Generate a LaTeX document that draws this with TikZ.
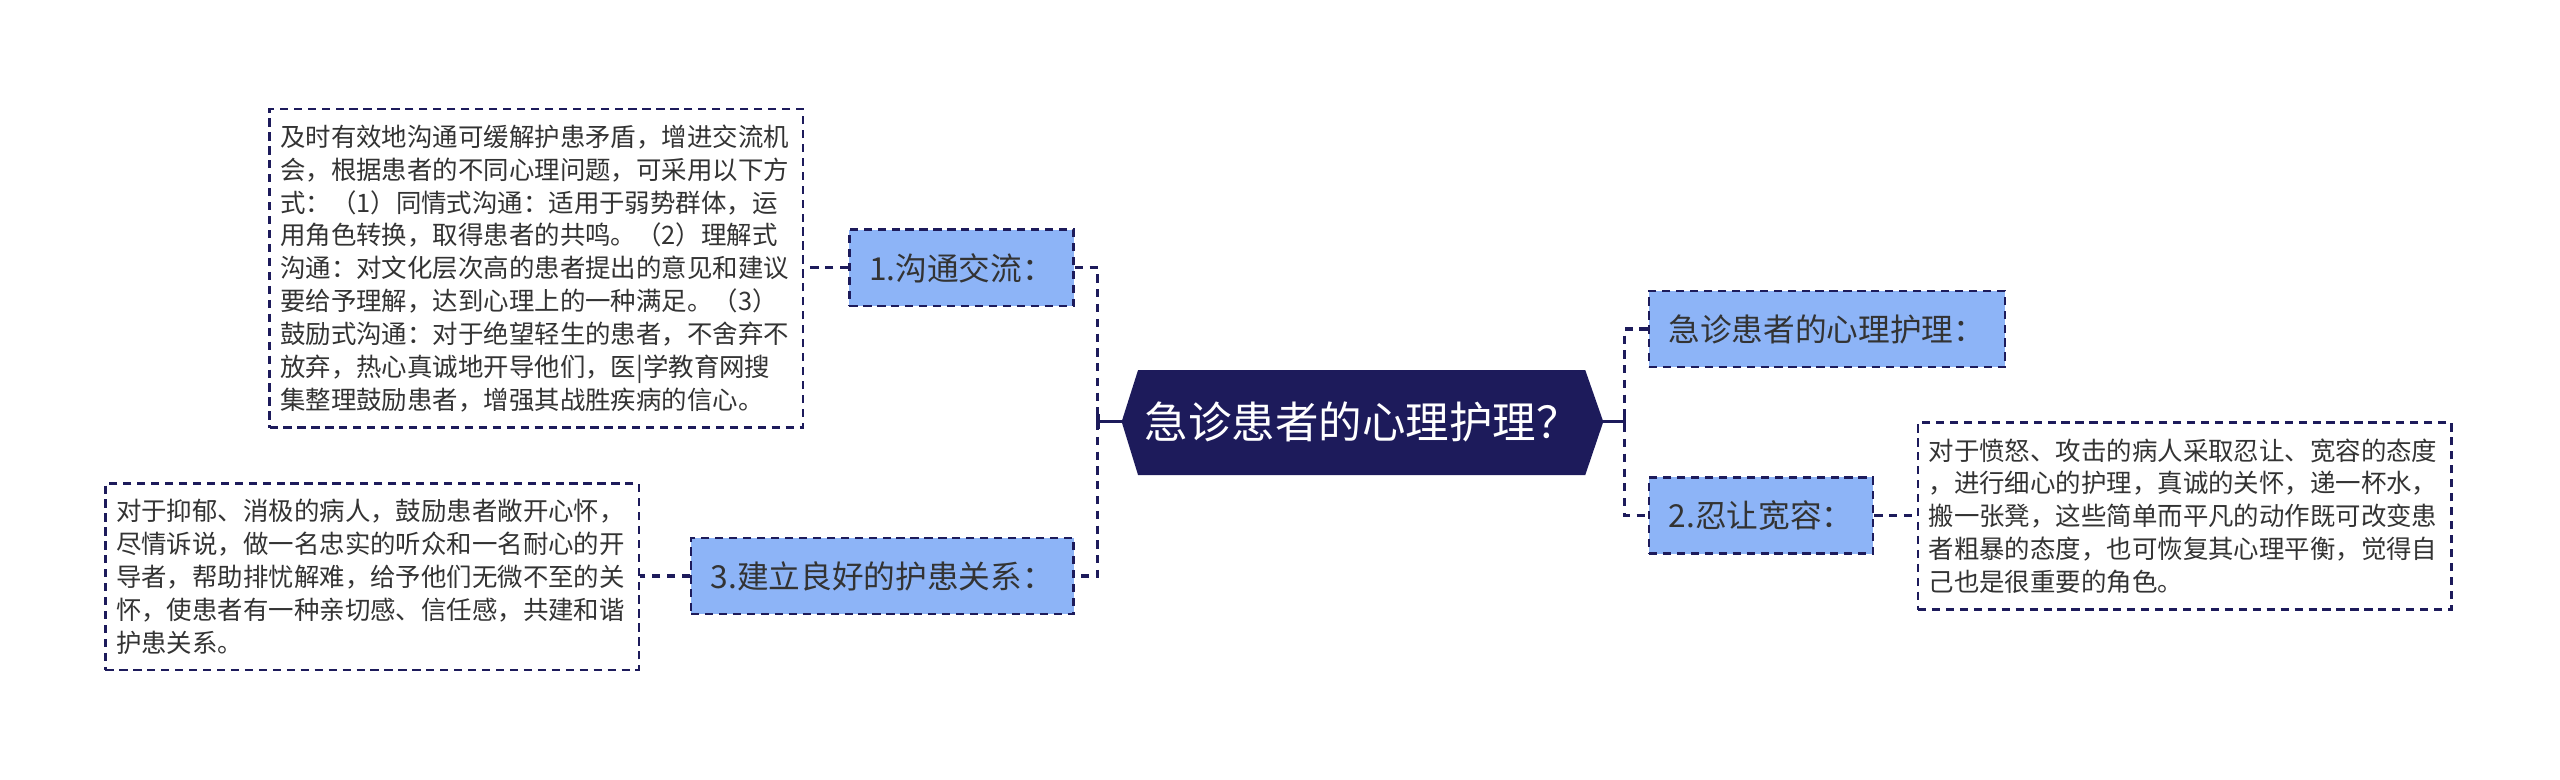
\documentclass[tikz,border=0pt]{standalone}
\usepackage{fontspec}
\setmainfont{Noto Sans CJK SC}
\definecolor{navy}{HTML}{1D1B5B}
\definecolor{lblue}{HTML}{8DB4F7}
\definecolor{txt}{HTML}{333333}
\begin{document}
\begin{tikzpicture}[x=1pt,y=-1pt,
  conn/.style={draw=navy,line width=1.9pt,dash pattern=on 5pt off 4pt},
  solidlink/.style={draw=navy,line width=1.8pt},
  tickmark/.style={draw=navy,line width=2pt},
  topic/.style={fill=lblue,draw=navy,line width=1.6pt,dash pattern=on 5pt off 3.5pt,
    font=\fontsize{19.3}{23}\selectfont,text=txt,inner xsep=12pt,inner ysep=0pt,minimum height=46.5pt},
  leaf/.style={draw=navy,line width=1.5pt,dash pattern=on 5pt off 3.5pt,
    font=\fontsize{15.5}{20}\selectfont,text=txt,text width=312pt,align=left,
    inner xsep=6.5pt,inner ysep=9.7pt},
  central/.style={text=white,font=\fontsize{26.5}{30}\selectfont,inner sep=0pt}
  ]
\useasboundingbox (0,0) rectangle (1560,475.3);
% central node
\fill[navy] (683.5,257) -- (693.5,225.5) -- (966,225.5) -- (977,257) -- (966,289.5) -- (693.5,289.5) -- cycle;
\node[central] (c) at (830,257) {急诊患者的心理护理？};
\coordinate (cl) at (683.5,257);
\coordinate (cr) at (977,257);
\coordinate (lj) at (669,257);
\coordinate (rj) at (990,257);

% topic nodes
\node[topic,anchor=east] (n1) at (655,163.25) {1.沟通交流：};
\node[topic,anchor=east] (n3) at (655,351) {3.建立良好的护患关系：};
\node[topic,anchor=west] (r1) at (1004,200.5) {急诊患者的心理护理：};
\node[topic,anchor=west] (n2) at (1004,314.2) {2.忍让宽容：};

% leaf text boxes
\node[leaf,anchor=east] (t1) at (490,163.5) {及时有效地沟通可缓解护患矛盾，增进交流机\\
会，根据患者的不同心理问题，可采用以下方\\
式：（1）同情式沟通：适用于弱势群体，运\\
用角色转换，取得患者的共鸣。（2）理解式\\
沟通：对文化层次高的患者提出的意见和建议\\
要给予理解，达到心理上的一种满足。（3）\\
鼓励式沟通：对于绝望轻生的患者，不舍弃不\\
放弃，热心真诚地开导他们，医|学教育网搜\\
集整理鼓励患者，增强其战胜疾病的信心。};
\node[leaf,anchor=east] (t3) at (390,351.5) {对于抑郁、消极的病人，鼓励患者敞开心怀，\\
尽情诉说，做一名忠实的听众和一名耐心的开\\
导者，帮助排忧解难，给予他们无微不至的关\\
怀，使患者有一种亲切感、信任感，共建和谐\\
护患关系。};
\node[leaf,anchor=west] (t2) at (1168,314.5) {对于愤怒、攻击的病人采取忍让、宽容的态度\\
，进行细心的护理，真诚的关怀，递一杯水，\\
搬一张凳，这些简单而平凡的动作既可改变患\\
者粗暴的态度，也可恢复其心理平衡，觉得自\\
己也是很重要的角色。};

% connectors
\draw[solidlink] (cl) -- (lj);
\draw[solidlink] (cr) -- (rj);
\draw[conn] (n1.east) -| (lj) |- (n3.east);
\draw[conn] (r1.west) -| (rj) |- (n2.west);
\draw[tickmark] ([yshift=4.5pt]lj) -- ([yshift=-4.5pt]lj);
\draw[tickmark] ([yshift=4.5pt]rj) -- ([yshift=-4.5pt]rj);
\draw[conn] (n1.west) -- (n1.west -| t1.east);
\draw[conn] (n3.west) -- (n3.west -| t3.east);
\draw[conn] (n2.east) -- (n2.east -| t2.west);
\end{tikzpicture}
\end{document}
